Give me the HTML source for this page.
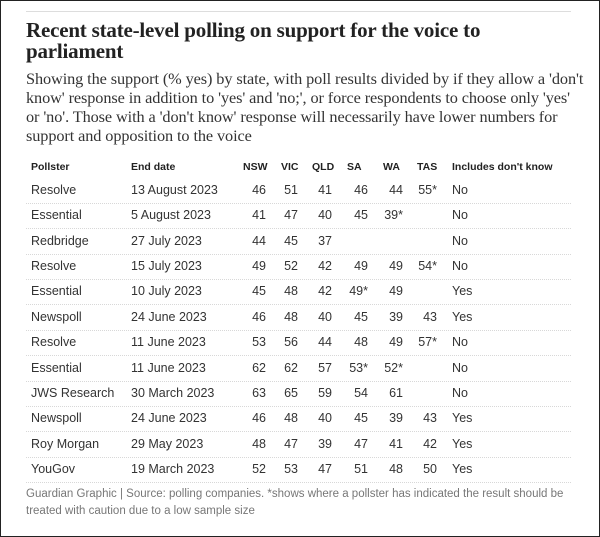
<!DOCTYPE html>
<html><head><style>
body{margin:0;width:600px;height:537px;position:relative;background:#fff;overflow:hidden;font-family:"Liberation Sans",sans-serif;color:#333}
#b{position:absolute;left:0;top:0;width:598px;height:535px;border:1px solid #222}
.t{position:absolute;white-space:nowrap}
h1{position:absolute;left:26px;top:20px;margin:0;font:bold 21px/21px "Liberation Serif",serif;color:#222;letter-spacing:-0.2px;width:480px}
p.s{position:absolute;left:26px;top:69px;margin:0;font:16.3px/19px "Liberation Serif",serif;color:#333;width:560px;letter-spacing:-0.1px}
.h{font-weight:bold;font-size:10.5px;color:#222}
.r{font-size:12.5px;color:#333}
.ln{position:absolute;left:26px;width:545px;border-top:1px dotted #d8d8d8;height:0}
.f{position:absolute;left:26px;top:486px;width:540px;font-size:11.5px;line-height:17px;color:#777}
</style></head><body>
<div id="b"></div>
<div style="position:absolute;left:26px;top:11px;width:545px;border-top:1px solid #ddd"></div>
<h1>Recent state-level polling on support for the voice to parliament</h1>
<p class="s">Showing the support (% yes) by state, with poll results divided by if they allow a 'don't know' response in addition to 'yes' and 'no;', or force respondents to choose only 'yes' or 'no'. Those with a 'don't know' response will necessarily have lower numbers for support and opposition to the voice</p>
<div id="tbl"></div>
<div class="f">Guardian Graphic | Source: polling companies. *shows where a pollster has indicated the result should be treated with caution due to a low sample size</div>
<script>
var rows=[["Resolve","13 August 2023","46","51","41","46","44","55*","No"],
["Essential","5 August 2023","41","47","40","45","39*","","No"],
["Redbridge","27 July 2023","44","45","37","","","","No"],
["Resolve","15 July 2023","49","52","42","49","49","54*","No"],
["Essential","10 July 2023","45","48","42","49*","49","","Yes"],
["Newspoll","24 June 2023","46","48","40","45","39","43","Yes"],
["Resolve","11 June 2023","53","56","44","48","49","57*","No"],
["Essential","11 June 2023","62","62","57","53*","52*","","No"],
["JWS Research","30 March 2023","63","65","59","54","61","","No"],
["Newspoll","24 June 2023","46","48","40","45","39","43","Yes"],
["Roy Morgan","29 May 2023","48","47","39","47","41","42","Yes"],
["YouGov","19 March 2023","52","53","47","51","48","50","Yes"]];
var ends=[266,298,332,368,403,437];
var hx=[243,281,312,347,383,417];
var h=["NSW","VIC","QLD","SA","WA","TAS"];
var s='';
s+='<div class="t h" style="left:31px;top:161px">Pollster</div><div class="t h" style="left:131px;top:161px">End date</div><div class="t h" style="left:452px;top:161px">Includes don\'t know</div>';
for(var i=0;i<6;i++)s+='<div class="t h" style="left:'+hx[i]+'px;top:161px">'+h[i]+'</div>';
for(var r=0;r<rows.length;r++){var y=183+r*25.36;var d=rows[r];
s+='<div class="t r" style="left:31px;top:'+y+'px">'+d[0]+'</div><div class="t r" style="left:131px;top:'+y+'px">'+d[1]+'</div><div class="t r" style="left:452px;top:'+y+'px">'+d[8]+'</div>';
for(var i=0;i<6;i++){var v=d[2+i];if(!v)continue;
s+='<div class="t r" style="right:'+(600-ends[i])+'px;top:'+y+'px">'+v+'</div>';}
s+='<div class="ln" style="top:'+(203+r*25.36)+'px"></div>';}
document.getElementById('tbl').innerHTML=s;
</script>
</body></html>
